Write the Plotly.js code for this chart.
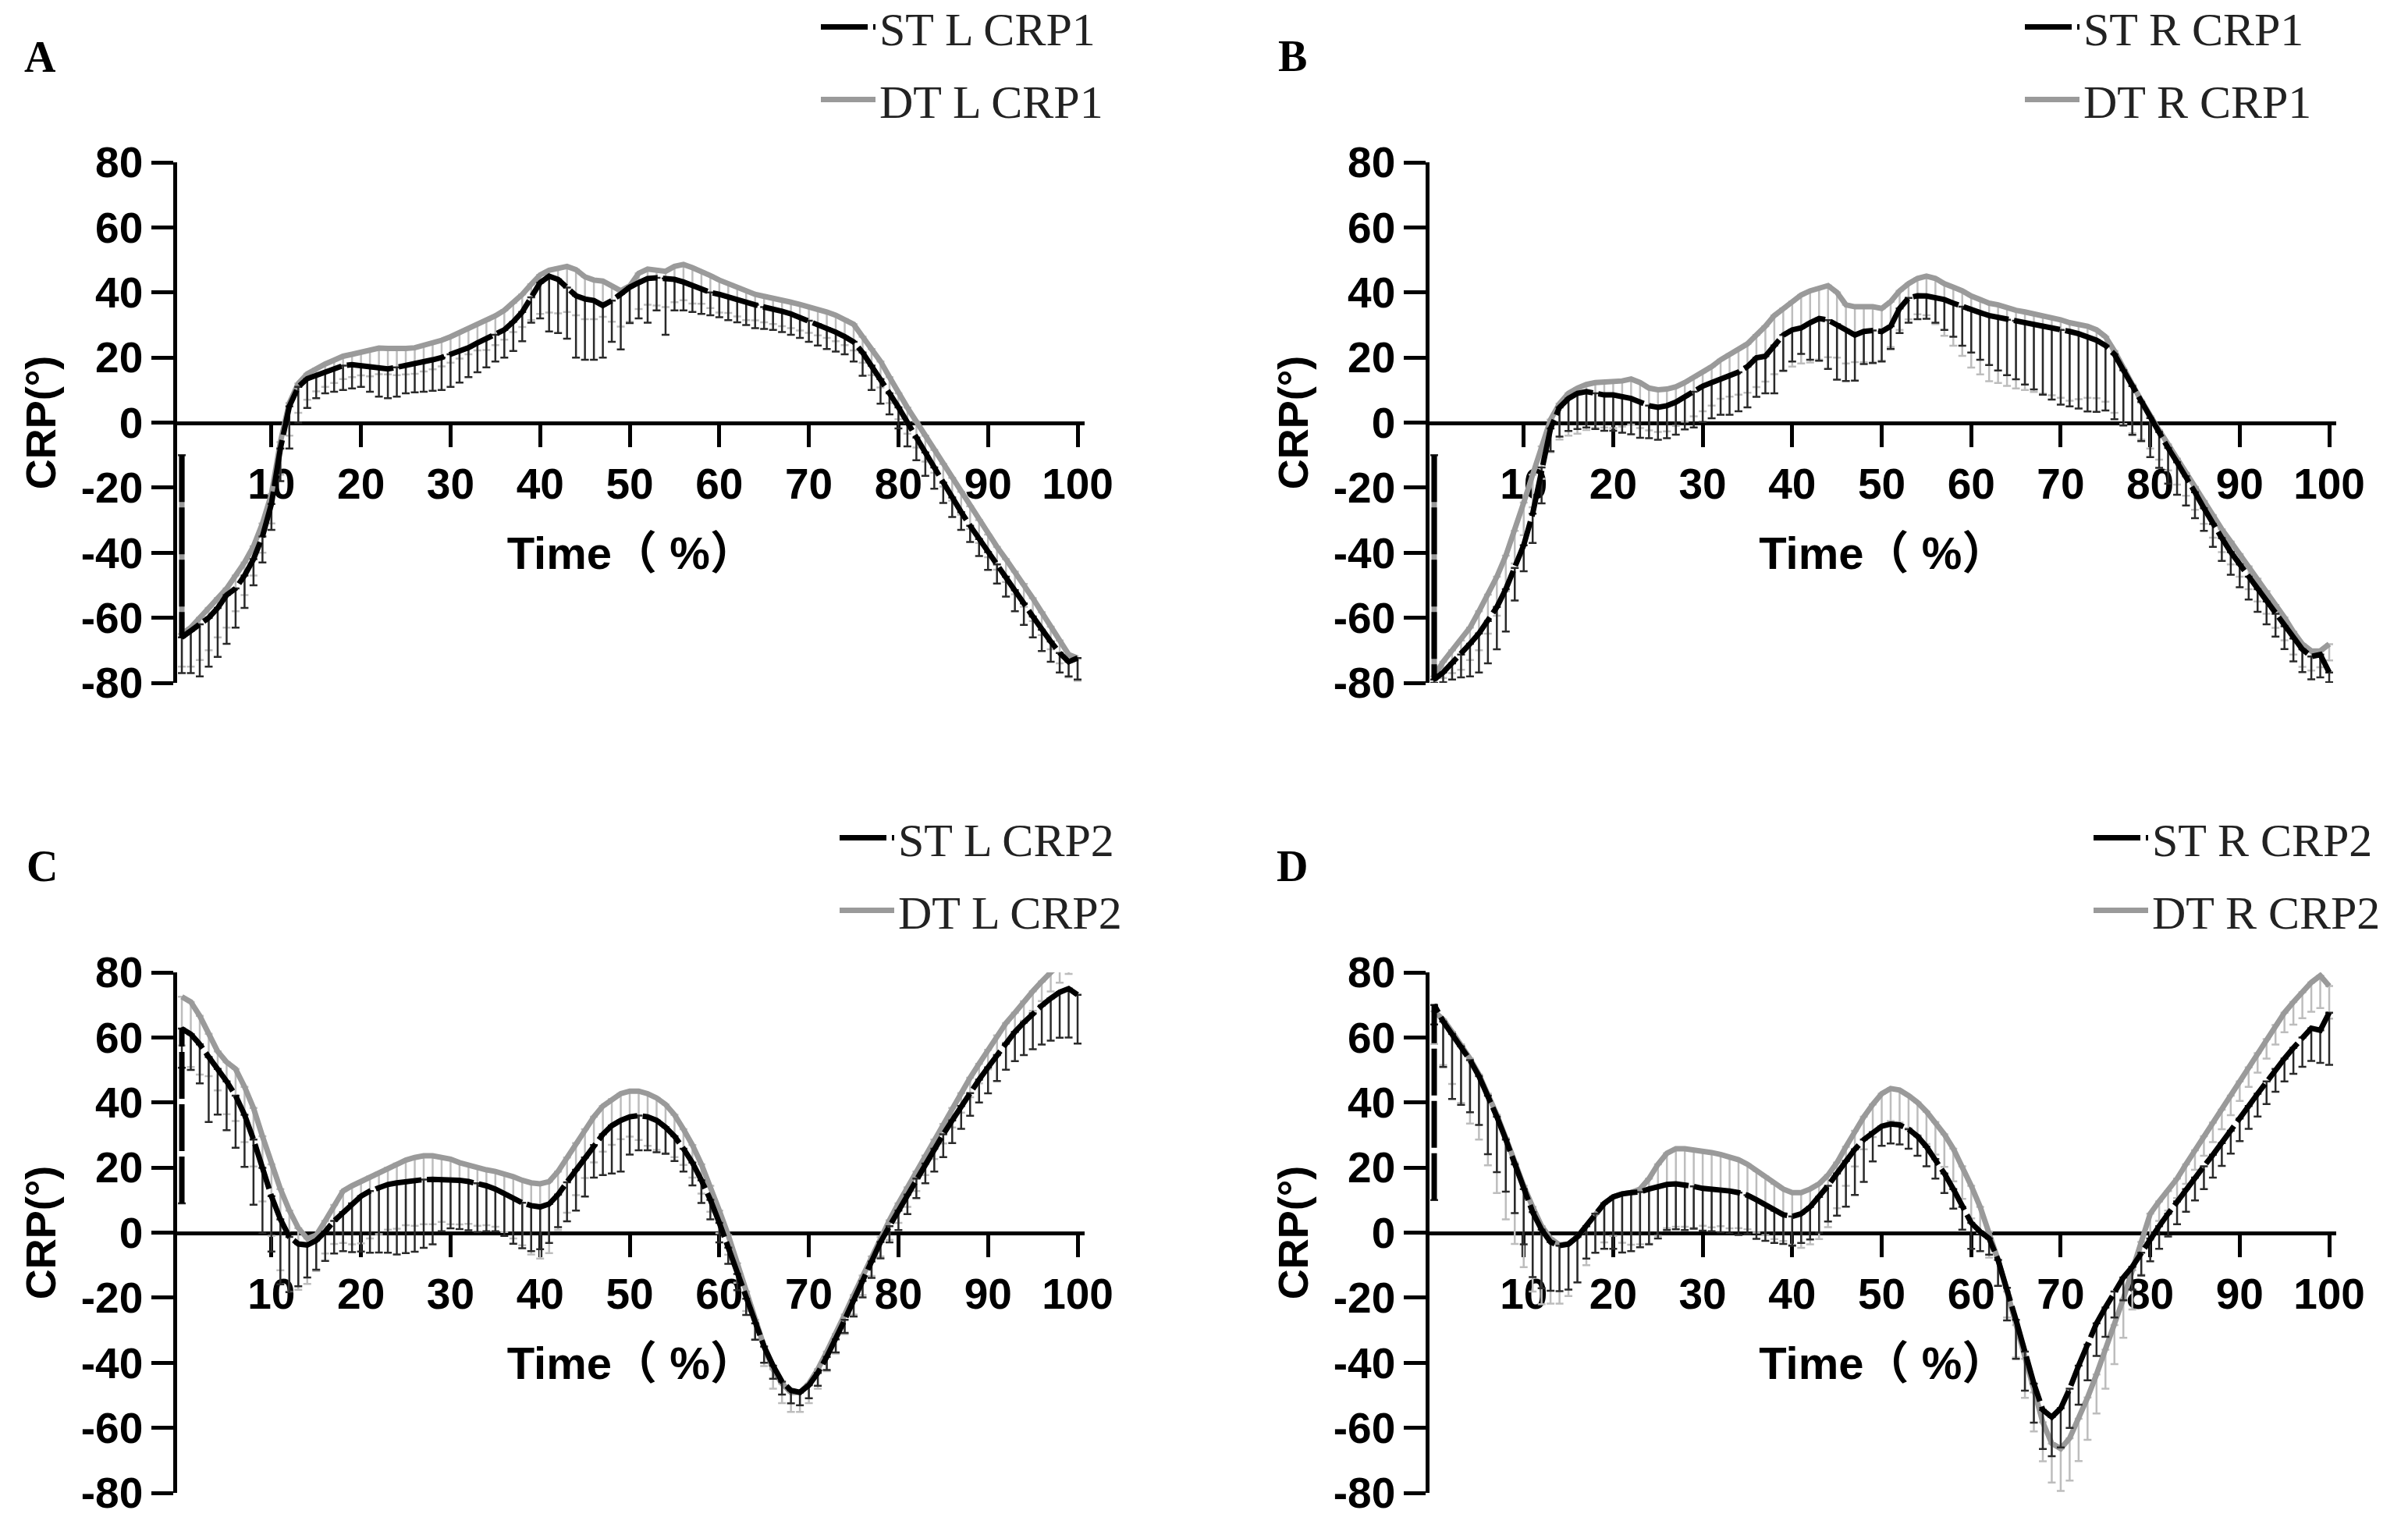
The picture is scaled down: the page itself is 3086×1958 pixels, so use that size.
<!DOCTYPE html>
<html>
<head>
<meta charset="utf-8">
<script src="https://cdn.plot.ly/plotly-3.0.1.min.js"></script>
<style>
  html, body { margin: 0; padding: 0; background: #fff; }
  #chart { width: 3086px; height: 1958px; }
</style>
</head>
<body>
<div id="chart"></div>
<script>
// gait cycle, percent
const timePct = [0,1,2,3,4,5,6,7,8,9,10,11,12,13,14,15,16,17,18,19,20,21,22,23,24,25,26,27,28,29,30,
  31,32,33,34,35,36,37,38,39,40,41,42,43,44,45,46,47,48,49,50,51,52,53,54,55,56,57,58,59,60,
  61,62,63,64,65,66,67,68,69,70,71,72,73,74,75,76,77,78,79,80,81,82,83,84,85,86,87,88,89,90,
  91,92,93,94,95,96,97,98,99,100]

const xTickVals = [10,20,30,40,50,60,70,80,90,100]
const yTickVals = [-80,-60,-40,-20,0,20,40,60,80]
const yTickText = ['-80','-60','-40','-20','0','20','40','60','80']
const panelLabels = ['A','B','C','D']
const namesA = ['ST L CRP1','DT L CRP1']
const namesB = ['ST R CRP1','DT R CRP1']
const namesC = ['ST L CRP2','DT L CRP2']
const namesD = ['ST R CRP2','DT R CRP2']

// value at x=0 before the curve starts (vertical jump at the axis), null = none
const startA = [-10, -10]
const startB = [-10, -10]
const startC = [9, null]
const startD = [10, null]

// ---- A: left CRP1 ----
const stMeanA = [-66,-64,-62,-60,-57,-53,-51,-47,-42,-35,
  -25,-8,5,11,13.5,14.5,15.5,16.5,17.5,17.8,
  17.5,17,16.5,16.5,17,17.5,18,18.5,19.3,20,
  21,22,23,24.5,25.8,27,28.5,31,34,38.5,
  43,45,44,41.5,39,38,37.5,36,37.5,39.5,
  41.6,43,44.3,44.5,44.3,44,43.2,42,41,40,
  39.4,38.5,37.8,37,36.2,35.5,35,34.2,33.4,32.3,
  31.3,30.2,29.1,27.8,26.4,24.8,21.5,17.5,13.4,9,
  4.7,-0.2,-4.6,-9.2,-13.8,-18.5,-23,-27.5,-31.7,-35.8,
  -39.8,-43.6,-47.4,-51.5,-55.6,-59.6,-63.7,-67.3,-70.8,-73.5,
  -72.4]
const stSdA = [11,13,16,15,15,15,12,10,8,8,
  8,10,13,11,9,7,6.5,7,7.5,7.3,
  6.5,7.5,8.5,9,9,8.5,8.7,9,9.5,10,
  10,9.7,9,9,8.8,8.2,8.5,9,9,7.8,
  11,17,16.5,15.7,19,18.7,18.2,16,12.7,17,
  11,11,13.6,10,17.3,9.5,8.7,8,7.6,7,
  7,7,7,7,7.2,6.7,6.5,6.4,6.4,6.3,
  6.5,6.5,6.5,6,5.4,6,7.1,7.5,7.6,6.5,
  6.5,7.1,7,7.2,6.5,6.2,6,5.5,5,5.2,
  5.5,5.9,6.1,6.5,6.6,6.4,6.5,6.2,6,4.5,
  6.6]
const dtMeanA = [-65,-63,-60,-57,-54,-51,-47,-43,-38,-31,
  -22,-6,6,12,15,16.6,18,19.2,20.4,21,
  21.5,22.2,22.9,22.8,22.6,22.8,23,23.7,24.4,25.3,
  26.4,27.7,29,30.2,31.3,32.8,34.5,36.8,39.4,42.5,
  45.4,46.8,47.6,48,47,44.8,43.8,43.5,42,40.5,
  42,45.9,47.2,47,46.5,48,48.6,47.6,46.5,45.2,
  43.8,42.7,41.6,40.5,39.4,38.8,38.3,37.6,37,36.3,
  35.6,34.8,34,33,31.8,30.2,26.4,22.6,18.8,14,
  9,4.6,0.3,-4,-8.4,-12.7,-17,-21.3,-25.7,-30,
  -34.4,-38.2,-42,-45.8,-49.6,-54,-58.3,-62.7,-67,-71.3,
  -72.4]
const dtSdA = [10,12,13,13,12,12,11,10,9,9,
  9,10,10,9,8,7,7,7,7,7,
  7,8,8,8,8,8,8,8,8,8,
  8,8,8,8,9,9,9,9,10,11,
  12,13,14,14,14,13,12,11,11,11,
  11,11,11,11,11,11,11,11,10,10,
  10,9,9,9,8,8,8,8,8,8,
  8,8,8,8,8,8,8,8,8,8,
  8,8,8,8,7,7,7,7,7,7,
  7,7,7,7,7,7,7,7,7,7,
  7]

// ---- B: right CRP1 ----
const stMeanB = [-79,-76.8,-74,-71.3,-68,-64.8,-61,-56.7,-51.2,-44.7,
  -37.7,-28,-13.8,-1.8,4.7,7.4,9,9.5,9,8.5,
  8.5,7.9,7.4,6.3,5.2,4.7,5.2,6.3,7.9,9.5,
  11.2,12.3,13.4,14.4,15.5,17.2,19.9,20.4,23.7,26.9,
  28.5,29.1,30.7,32,31.5,30.2,28.5,26.9,28,28.3,
  28,29.6,35.1,38.3,39,38.9,38.3,37.8,36.7,35.6,
  34.5,33.8,32.9,32.4,31.6,31.3,30.7,30.2,29.6,29.1,
  28.5,28,27.3,26.4,25.3,23.7,21,16.1,11.2,6.3,
  1.4,-2.9,-7.8,-12.2,-16.5,-21.4,-26.3,-31.2,-35.5,-39.8,
  -43.6,-47.4,-51.2,-55,-58.8,-62.6,-66.4,-69.7,-71.9,-71.3,
  -76.8]
const stSdB = [1,3,5,7,10,12,13,13,13,10,
  8,9,11,7,9,10,11,11,11,11,
  11,11,11,11,10,10,10,10,10,11,
  11,11,11,12,12,12.5,12,11.4,14.7,11,
  9.7,8,11.4,13,15,17,15.7,14,10,10,
  9.2,7,7.6,7.6,7.2,7,7.6,9.3,10.3,12,
  13,14.5,15.2,16.4,17,18,19,20,21,22,
  23,23,23,23,22,20,20,17,15,12,
  12,11,11,10,9,8,7,7,7,7,
  7,7,7,7,7,7,7,7,7,7,
  3]
const dtMeanB = [-78,-73.5,-70,-67,-63,-58,-52.9,-47.4,-40.9,-33.3,
  -24.6,-16,-7.3,0.9,5.8,9,10.6,11.7,12.3,12.5,
  12.3,12.8,13.4,12.3,10.6,10.1,10.3,11,12.3,13.9,
  15.5,17.2,19.3,21,22.6,24.2,26.9,29.6,32.9,35.1,
  37.2,39.2,40.5,41.4,42.1,40,36.2,35.6,35.6,35.6,
  35.1,37.2,40.5,42.7,44.3,45,44.3,42.7,41.6,40.5,
  38.9,37.8,36.7,36.2,35.3,34.5,34,33.4,32.9,32.4,
  31.6,30.7,30.2,29.6,28.5,26.4,22,16.6,11.7,6.8,
  2,-2.4,-6.7,-11.1,-15.5,-19.8,-24.1,-28.4,-32.8,-36.6,
  -40.4,-44.2,-48,-51.8,-56.1,-59.9,-64.3,-68.1,-70.2,-70.2,
  -68.1]
const dtSdB = [2,5,7,9,10,12,12,12,11,10,
  10,10,10,10,11,13,14,14,14,14,
  14,14,14,14,13,13,13,12,12,12,
  12,12,12,13,14,15,16,17,18,19,
  20,21,22,22,22,20,18,17,17,17,
  16,14,12,11,11,12,14,16,18,20,
  22,23,24,24,24,24,24,24,24,24,
  24,24,23,22,21,20,19,17,15,12,
  10,9,8,8,7,7,7,7,7,7,
  7,7,7,7,7,7,7,7,6,5,
  5]

// ---- C: left CRP2 ----
const stMeanC = [62.7,61,57.9,54,50.3,46.5,42.1,36.2,28.6,19.9,
  11.2,4.1,-1.3,-3.5,-3.8,-2.4,0.3,3.6,6.3,9,
  11.2,12.8,13.9,14.8,15.3,15.7,16.1,16.3,16.4,16.4,
  16.3,16.1,15.7,15.2,14.4,13.4,12,10.6,9.2,8.3,
  7.9,8.8,11.7,15.5,19.3,23.1,26.9,30.2,32.9,34.5,
  35.6,36,35.6,34.5,32.4,29.6,25.8,21.5,16.1,10.1,
  3,-4.6,-12.7,-20.3,-27.9,-35,-40.9,-45.8,-48.5,-49.1,
  -46.9,-43.1,-38.2,-32.8,-26.8,-20.8,-14.9,-8.9,-2.9,2,
  6.8,11.7,16.6,21.2,25.8,30.2,34.5,38.9,42.9,47,
  50.8,54.6,58.1,61.7,64.6,67.4,69.8,72,73.9,75,
  73.1]
const stSdC = [12,11,12,20,14,15,16,16,20,20,
  17,20,17,13,10,9,9,10,12,15,
  17,19,20,21,22,22,22,21,20,16,
  15,15,15,15,14,13,13,14,14,14,
  13,12,10,12,12.5,12,10,12.5,14.7,15.7,
  11.6,10.7,10.3,9.8,8.2,7.6,7,7,7,6,
  6,5,5,5,5,5,4,4,4,4,
  4,4,4,4,4,5,5,5,5,5,
  6,6,6,6,7,7,7,7,7,7,
  8,8,8,9,10,11,12,13,14,15,
  15]
const dtMeanC = [72.5,70.9,66.6,61.1,55.7,52.4,50.3,44.8,38.3,29.6,
  21,13.4,6.8,1.4,-1.8,-0.8,3.6,8.5,12.8,14.4,
  15.7,17.2,18.5,19.9,21.2,22.3,23.1,23.6,23.6,23.3,
  22.6,21.5,20.7,20.1,19.3,18.8,18.2,17.2,16.1,15.3,
  15,15.7,18.8,23.1,27.5,31.8,35.6,38.9,41,42.7,
  43.5,43.5,42.7,41.4,39.4,36.2,31.8,26.9,21,14.4,
  6.8,-0.8,-9.4,-18.1,-26.8,-35,-42,-46.4,-49.1,-49.1,
  -46.4,-42,-36.6,-31.2,-25.2,-19.2,-13.2,-7.3,-1.3,3.8,
  9,13.9,18.8,23.7,28.6,33.4,38.3,42.9,47.6,51.9,
  56.2,60.6,64.4,67.6,71.1,74.2,77.2,80.1,82.8,85.5,
  88.3]
const dtSdC = [15,20,18,13,12,16,16,17,18,20,
  22,25,25,19,14,11,10,12,16,18,
  19,19,19,19,20,20,21,21,21,20,
  20,19,18,18,17,17,18,19,20,22,
  23,22,18,17,16,15,14,14,14,14,
  14,15,16,16,15,13,11,10,9,8,
  7,6,6,6,6,6,6,6,6,6,
  6,6,6,6,6,6,6,6,6,6,
  6,6,6,6,6,6,6,6,6,6,
  6,6,6,6,6,6,6,6,6,6,
  6]

// ---- D: right CRP2 ----
const stMeanD = [70,64.9,61.1,57.3,53,48.1,42.1,35.6,28.6,21,
  13.4,6.3,0.9,-2.9,-4,-3.5,-1.3,2,5.8,9,
  11,11.9,12.3,12.5,13.4,14.2,14.8,15,14.8,14.2,
  13.6,13.4,13.1,12.8,12.3,11.5,10.1,8.5,6.8,5.5,
  5,5.8,7.9,11,14.4,18.2,22,25.6,28.6,30.9,
  32.7,33.4,33.1,31.8,29.6,26.4,22.6,18.2,13.4,7.9,
  3,0.3,-1.8,-8.4,-17,-26.8,-36.6,-46.4,-54.5,-56.7,
  -54,-48,-40.9,-34.4,-27.9,-23,-18.1,-13.8,-10.5,-6.2,
  -1.8,2,5.8,9.6,13.4,16.9,20.4,23.9,27.5,31.3,
  35.1,38.9,42.7,46.5,50.3,53.5,56.8,60,62.8,62.2,
  67.6]
const stSdD = [6,14,20,18,16,15,18,17,16,15,
  17,20,18,15,14,14,14,10,12,14,
  16,18,18,17,17,16,14,14,14,13,
  13,13,13,13,13,12,12,11,10,9,
  9,9,10,11,11,13,14,14,13,9,
  6,6,6,6,6,6,6,6,6,7,
  8,6,5,8,10,12,12,12,12,12,
  12,12,12,11,10,9,8,7,7,7,
  7,7,7,7,7,7,7,7,7,7,
  7,7,7,7,7,7,8,9,10,10,
  16]
const dtMeanD = [68,65.5,61.7,57.9,53.5,48.6,42.7,36.2,29.1,21.5,
  14.4,7.9,2,-1.8,-3.8,-3.5,-1.3,2,5.8,9,
  11,11.9,12.3,13.4,16.6,21,24.4,25.8,25.8,25.5,
  25.1,24.6,24,23.3,22.4,21,19,17.2,15,13.4,
  12.3,12.3,13.4,15,17.7,21.5,26.4,31.3,35.6,39.4,
  42.7,44.3,43.8,42.1,40,37.2,34,30.2,25.8,20.4,
  14.4,7.9,0.3,-8.4,-18.1,-28.4,-38.8,-49.1,-58.3,-64.8,
  -66.4,-63.2,-57.2,-50.7,-43.6,-36,-28.4,-20.3,-11.6,-2.9,
  5.8,9.6,12.8,16.6,21,25.3,29.6,33.8,37.8,42.1,
  46.5,50.8,55.2,59.5,63.8,67.6,70.9,73.9,76.9,79,
  75.8]
const dtSdD = [10,14,16,18,20,20,22,24,25,25,
  25,26,24,20,18,16,14,12,12,12,
  12,15,16,17,20,22,23,24,24,24,
  23,23,22,22,21,20,19,18,17,16,
  16,17,17,17,16,14,12,11,10,10,
  10,10,10,10,10,10,10,10,10,10,
  10,8,8,8,8,10,12,12,12,12,
  13,13,13,13,12,12,12,12,12,10,
  8,6,6,6,6,6,6,6,6,6,
  6,6,6,6,6,6,7,8,9,10,
  10]

const W = 3086, H = 1958
const px = v => v / W
const py = v => 1 - v / H

// plot-area geometry (pixels)
const colX = [[227.3, 1390.2], [1832.3, 2994.2]]
const rowY = [[875, 208], [1913, 1246]]

const panels = [
  {st: stMeanA, stSd: stSdA, dt: dtMeanA, dtSd: dtSdA, start: startA, names: namesA, col: 0, row: 0, legendText: [1132, -11]},
  {st: stMeanB, stSd: stSdB, dt: dtMeanB, dtSd: dtSdB, start: startB, names: namesB, col: 1, row: 0, legendText: [2675, -11]},
  {st: stMeanC, stSd: stSdC, dt: dtMeanC, dtSd: dtSdC, start: startC, names: namesC, col: 0, row: 1, legendText: [1156, 1028]},
  {st: stMeanD, stSd: stSdD, dt: dtMeanD, dtSd: dtSdD, start: startD, names: namesD, col: 1, row: 1, legendText: [2763, 1028]},
]
const letterPos = [[52, 73], [1656, 72], [54, 1110], [1656, 1110]]
const legendItemWidth = 70

const tickFont = {family: 'Liberation Sans, Arial, sans-serif', size: 55, color: '#000', weight: 'bold'}
const xTitleFont = {family: "Liberation Sans, Arial, 'Noto Sans CJK SC', sans-serif", size: 58, color: '#000', weight: 'bold'}
const yTitleFont = {family: 'Liberation Sans, Arial, sans-serif', size: 54, color: '#000', weight: 'bold'}
const legendFont = {family: 'Liberation Serif, Times New Roman, serif', size: 60, color: '#222'}

function makeTrace(vals, sd, start, name, i, isST) {
  let x = timePct.slice(), y = vals.slice(), minus = sd.slice()
  if (start != null) {
    x = [0].concat(x)
    y = [start].concat(y)
    minus = [null].concat(minus)
  }
  const n = i === 0 ? '' : String(i + 1)
  return {
    type: 'scatter',
    mode: 'lines',
    x: x,
    y: y,
    name: name,
    xaxis: 'x' + n,
    yaxis: 'y' + n,
    legend: 'legend' + n,
    legendgroup: (isST ? 'st' : 'dt') + i,
    legendrank: isST ? 1 : 2,   // ST listed first
    line: isST
      ? {color: '#000', width: 7, dash: '60px,7px'}
      : {color: '#9a9a9a', width: 7},
    error_y: {
      type: 'data',
      symmetric: false,
      array: minus.map(v => (v == null ? null : 0)),
      arrayminus: minus,
      color: isST ? '#2a2a2a' : '#bdbdbd',
      thickness: 2.5,
      width: 5
    },
    hoverinfo: 'skip'
  }
}

const data = []
const layout = {
  width: W,
  height: H,
  // legends sit at the very top edge; don't let them push the plot areas
  margin: {l: 0, r: 0, t: 0, b: 0, autoexpand: false},
  paper_bgcolor: '#fff',
  plot_bgcolor: '#fff',
  showlegend: true,
  annotations: []
}

panels.forEach((p, i) => {
  const n = i === 0 ? '' : String(i + 1)
  // gray DT first so the black ST line sits on top
  data.push(makeTrace(p.dt, p.dtSd, p.start[1], p.names[1], i, false))
  data.push(makeTrace(p.st, p.stSd, p.start[0], p.names[0], i, true))

  const xd = [px(colX[p.col][0]), px(colX[p.col][1])]
  const yd = [py(rowY[p.row][0]), py(rowY[p.row][1])]

  layout['xaxis' + n] = {
    domain: xd,
    range: [-0.5, 100.8],
    anchor: 'free',
    position: (yd[0] + yd[1]) / 2,   // x axis crosses at CRP = 0
    showline: true, linecolor: '#000', linewidth: 5,
    ticks: 'outside', ticklen: 28, tickwidth: 5, tickcolor: '#000',
    tickvals: xTickVals,
    tickfont: tickFont,
    showgrid: false, zeroline: false,
    layer: 'below traces',
    title: {text: 'Time（ %）', font: xTitleFont, standoff: 38},
    fixedrange: true
  }
  layout['yaxis' + n] = {
    domain: yd,
    range: [-80, 80],
    anchor: 'x' + n,
    showline: true, linecolor: '#000', linewidth: 5,
    ticks: 'outside', ticklen: 28, tickwidth: 5, tickcolor: '#000',
    tickvals: yTickVals,
    ticktext: yTickText,
    tickfont: tickFont,
    showgrid: false, zeroline: false,
    layer: 'below traces',
    title: {text: 'CRP(°)', font: yTitleFont, standoff: 16},
    fixedrange: true
  }
  layout['legend' + n] = {
    x: px(p.legendText[0] - 45 - (legendItemWidth - 30)),
    y: py(p.legendText[1]),
    xanchor: 'left',
    yanchor: 'top',
    font: legendFont,
    bgcolor: 'rgba(0,0,0,0)',
    traceorder: 'grouped',
    tracegroupgap: 12,
    itemwidth: legendItemWidth
  }
  layout.annotations.push({
    text: panelLabels[i],
    xref: 'paper', yref: 'paper',
    x: px(letterPos[i][0]), y: py(letterPos[i][1]),
    xanchor: 'center', yanchor: 'middle',
    showarrow: false,
    font: {family: 'Liberation Serif, Times New Roman, serif', size: 56, color: '#000', weight: 'bold'}
  })
})

Plotly.newPlot('chart', data, layout, {displayModeBar: false, staticPlot: true})
</script>
</body>
</html>
